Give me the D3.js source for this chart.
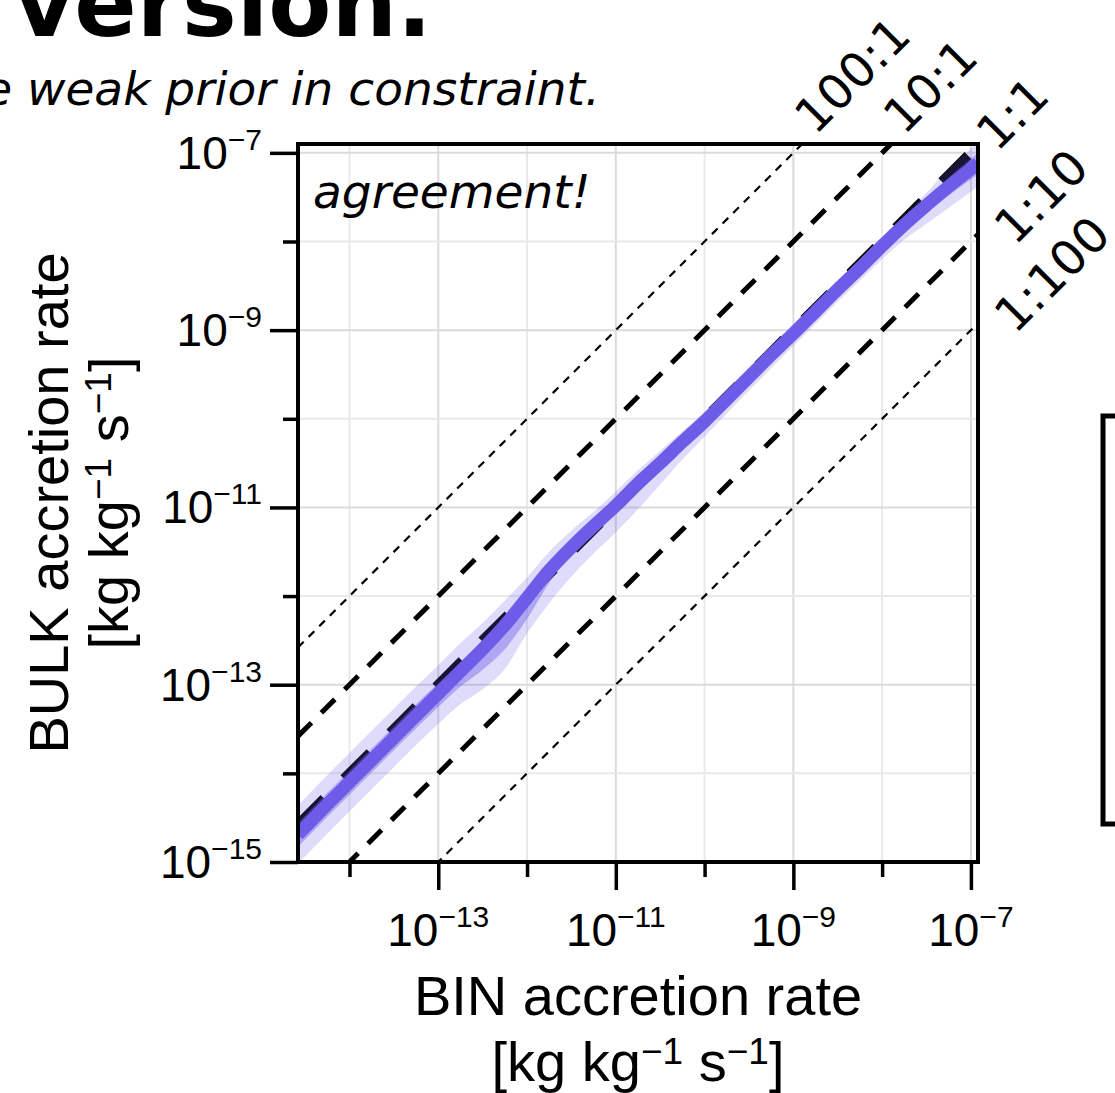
<!DOCTYPE html>
<html>
<head>
<meta charset="utf-8">
<script src="https://cdn.jsdelivr.net/npm/d3@7"></script>
<style>
    body { margin: 0; background: #fff; }
    svg { display: block; }
    text { font-family: "Liberation Sans", Arial, Helvetica, sans-serif; fill: #000; }
    .dejavu { font-family: "DejaVu Sans", sans-serif; }
</style>
</head>
<body>
<svg id="chart"></svg>
<script>
// BIN accretion rate, log10 of kg kg-1 s-1 (x positions of the curve)
const binExp = [-14.58, -14.25, -14.0, -13.75, -13.5, -13.25, -13.0, -12.75, -12.5, -12.25, -12.0, -11.75, -11.5, -11.25, -11.0, -10.75,
    -10.5, -10.25, -10.0, -9.75, -9.5, -9.25, -9.0, -8.75, -8.5, -8.25, -8.0, -7.75, -7.5, -7.25, -6.92];
// BULK accretion rate, log10: median and two percentile bands
const bulkMedianExp = [-14.69, -14.35, -14.10, -13.85, -13.60, -13.35, -13.10, -12.85, -12.60, -12.33, -12.02, -11.71, -11.45, -11.21, -10.98, -10.73,
    -10.50, -10.26, -10.03, -9.78, -9.53, -9.28, -9.04, -8.79, -8.54, -8.30, -8.05, -7.81, -7.59, -7.38, -7.12];
const bulkInnerLowExp = [-14.83, -14.49, -14.24, -13.99, -13.74, -13.49, -13.25, -13.02, -12.83, -12.60, -12.26, -11.85, -11.52, -11.28, -11.05, -10.80,
    -10.56, -10.32, -10.09, -9.84, -9.59, -9.34, -9.10, -8.85, -8.60, -8.36, -8.12, -7.88, -7.68, -7.48, -7.24];
const bulkInnerHighExp = [-14.56, -14.22, -13.97, -13.72, -13.47, -13.22, -12.98, -12.74, -12.50, -12.24, -11.95, -11.63, -11.38, -11.15, -10.92, -10.67,
    -10.45, -10.21, -9.98, -9.73, -9.48, -9.23, -8.99, -8.74, -8.49, -8.25, -8.00, -7.75, -7.52, -7.28, -7.00];
const bulkOuterLowExp = [-15.02, -14.68, -14.43, -14.18, -13.93, -13.68, -13.44, -13.22, -13.05, -12.82, -12.42, -12.08, -11.78, -11.52, -11.28, -11.02,
    -10.74, -10.46, -10.20, -9.94, -9.68, -9.43, -9.18, -8.93, -8.68, -8.44, -8.20, -7.98, -7.80, -7.62, -7.38];
const bulkOuterHighExp = [-14.36, -14.02, -13.77, -13.52, -13.27, -13.02, -12.78, -12.53, -12.30, -12.05, -11.79, -11.50, -11.26, -11.05, -10.82, -10.58,
    -10.36, -10.14, -9.92, -9.67, -9.43, -9.18, -8.93, -8.69, -8.44, -8.20, -7.95, -7.70, -7.45, -7.18, -6.88];

// reference lines BULK = ratio * BIN
const ratioValues = [100, 10, 1, 0.1, 0.01];
const ratioLabels = ["100:1", "10:1", "1:1", "1:10", "1:100"];

// tick exponents
const yMajorExp = [-7, -9, -11, -13, -15];
const yMinorExp = [-8, -10, -12, -14];
const xMajorExp = [-13, -11, -9, -7];
const xMinorExp = [-14, -12, -10, -8];
const xLimitExp = [-14.58, -6.92];
const yLimitExp = [-15, -6.9];

function createChart() {
    const width = 1115;
    const height = 1093;
    const margin = { top: 144, right: 137, bottom: 231, left: 298 };
    const plotRight = width - margin.right;
    const plotBottom = height - margin.bottom;

    const svg = d3.select("#chart")
        .attr("width", width)
        .attr("height", height);

    const xScale = d3.scaleLog()
        .domain(xLimitExp.map(e => Math.pow(10, e)))
        .range([margin.left, plotRight]);

    const yScale = d3.scaleLog()
        .domain(yLimitExp.map(e => Math.pow(10, e)))
        .range([plotBottom, margin.top]);

    const data = binExp.map((e, i) => ({
        x: Math.pow(10, e),
        med: Math.pow(10, bulkMedianExp[i]),
        inLo: Math.pow(10, bulkInnerLowExp[i]),
        inHi: Math.pow(10, bulkInnerHighExp[i]),
        outLo: Math.pow(10, bulkOuterLowExp[i]),
        outHi: Math.pow(10, bulkOuterHighExp[i])
    }));

    svg.append("defs").append("clipPath")
        .attr("id", "plotClip")
        .append("rect")
        .attr("x", margin.left)
        .attr("y", margin.top)
        .attr("width", plotRight - margin.left)
        .attr("height", plotBottom - margin.top);

    // grid
    const grid = svg.append("g").attr("clip-path", "url(#plotClip)");
    const gridX = xMajorExp.concat(xMinorExp);
    const gridY = yMajorExp.concat(yMinorExp);
    grid.selectAll(".gx")
        .data(gridX)
        .enter()
        .append("line")
        .attr("x1", d => xScale(Math.pow(10, d)))
        .attr("x2", d => xScale(Math.pow(10, d)))
        .attr("y1", margin.top)
        .attr("y2", plotBottom)
        .style("stroke", d => xMajorExp.includes(d) ? "#dadada" : "#e9e9e9")
        .style("stroke-width", 2);
    grid.selectAll(".gy")
        .data(gridY)
        .enter()
        .append("line")
        .attr("y1", d => yScale(Math.pow(10, d)))
        .attr("y2", d => yScale(Math.pow(10, d)))
        .attr("x1", margin.left)
        .attr("x2", plotRight)
        .style("stroke", d => yMajorExp.includes(d) ? "#dadada" : "#e9e9e9")
        .style("stroke-width", 2);

    // ratio lines
    const plot = svg.append("g").attr("clip-path", "url(#plotClip)");
    const ratioStyle = {
        "100:1": { w: 2.2, dash: "8,7" },
        "10:1": { w: 5, dash: "19,14" },
        "1:1": { w: 10, dash: "37,28" },
        "1:10": { w: 5, dash: "19,14" },
        "1:100": { w: 2.2, dash: "8,7" }
    };
    const xDom = xScale.domain();
    const ratioLine = d3.line()
        .x(d => xScale(d[0]))
        .y(d => yScale(d[1]));

    ratioValues.forEach((k, i) => {
        const st = ratioStyle[ratioLabels[i]];
        plot.append("path")
            .datum([[xDom[0], k * xDom[0]], [xDom[1], k * xDom[1]]])
            .attr("d", ratioLine)
            .style("fill", "none")
            .style("stroke", "#000")
            .style("stroke-width", st.w)
            .style("stroke-dasharray", st.dash);
    });

    // percentile bands and median
    const curve = d3.curveMonotoneX;
    const outerArea = d3.area()
        .x(d => xScale(d.x))
        .y0(d => yScale(d.outLo))
        .y1(d => yScale(d.outHi))
        .curve(curve);
    const innerArea = d3.area()
        .x(d => xScale(d.x))
        .y0(d => yScale(d.inLo))
        .y1(d => yScale(d.inHi))
        .curve(curve);
    const medianLine = d3.line()
        .x(d => xScale(d.x))
        .y(d => yScale(d.med))
        .curve(curve);

    plot.append("path")
        .datum(data)
        .attr("d", outerArea)
        .style("fill", "#6c5ce7")
        .style("fill-opacity", 0.22);
    plot.append("path")
        .datum(data)
        .attr("d", innerArea)
        .style("fill", "#6c5ce7")
        .style("fill-opacity", 0.42);
    plot.append("path")
        .datum(data)
        .attr("d", medianLine)
        .style("fill", "none")
        .style("stroke", "#6c5ce7")
        .style("stroke-width", 13)
        .style("stroke-linejoin", "round");

    // ratio labels, rotated along the lines
    const yTop = yScale.domain()[1];
    ratioValues.forEach((k, i) => {
        const xv = Math.min(xDom[1], yTop / k);
        const px = xScale(xv);
        const py = yScale(k * xv);
        let dx, dy;
        if (Math.abs(py - margin.top) < 5 && Math.abs(px - plotRight) < 5) { dx = -6; dy = 7; }
        else if (Math.abs(py - margin.top) < 1) { dx = -12; dy = -8; }
        else { dx = 12; dy = 12; }
        svg.append("text")
            .attr("class", "dejavu")
            .attr("transform", `translate(${px + dx + 25},${py + dy}) rotate(-45)`)
            .style("font-size", "48px")
            .text(ratioLabels[i]);
    });

    // axes
    svg.append("g")
        .attr("transform", `translate(${margin.left},0)`)
        .call(d3.axisLeft(yScale).tickValues(yMajorExp.map(e => Math.pow(10, e))).tickSize(28).tickFormat(""));
    svg.append("g")
        .attr("transform", `translate(${margin.left},0)`)
        .call(d3.axisLeft(yScale).tickValues(yMinorExp.map(e => Math.pow(10, e))).tickSize(15).tickFormat(""));
    svg.append("g")
        .attr("transform", `translate(0,${plotBottom})`)
        .call(d3.axisBottom(xScale).tickValues(xMajorExp.map(e => Math.pow(10, e))).tickSize(28).tickFormat(""));
    svg.append("g")
        .attr("transform", `translate(0,${plotBottom})`)
        .call(d3.axisBottom(xScale).tickValues(xMinorExp.map(e => Math.pow(10, e))).tickSize(15).tickFormat(""));

    svg.selectAll(".domain").remove();
    svg.selectAll(".tick line")
        .style("stroke", "#000")
        .style("stroke-width", 3.5);

    function powerLabel(text, exp) {
        text.append("tspan").text("10");
        text.append("tspan")
            .attr("dy", -19)
            .style("font-size", "30px")
            .text("\u2212" + Math.abs(exp));
    }

    yMajorExp.forEach(e => {
        const t = svg.append("text")
            .attr("x", margin.left - 36)
            .attr("y", yScale(Math.pow(10, e)) + 16)
            .style("font-size", "46px")
            .style("text-anchor", "end");
        powerLabel(t, e);
    });
    xMajorExp.forEach(e => {
        const t = svg.append("text")
            .attr("x", xScale(Math.pow(10, e)))
            .attr("y", plotBottom + 84)
            .style("font-size", "46px")
            .style("text-anchor", "middle");
        powerLabel(t, e);
    });

    // spines
    svg.append("rect")
        .attr("x", margin.left)
        .attr("y", margin.top)
        .attr("width", plotRight - margin.left)
        .attr("height", plotBottom - margin.top)
        .style("fill", "none")
        .style("stroke", "#000")
        .style("stroke-width", 4);

    // axis labels
    function unitLabel(text) {
        text.append("tspan").text("[kg kg");
        text.append("tspan").attr("dy", -17).style("font-size", "37px").text("\u22121");
        text.append("tspan").attr("dy", 17).text(" s");
        text.append("tspan").attr("dy", -17).style("font-size", "37px").text("\u22121");
        text.append("tspan").attr("dy", 17).text("]");
    }

    const xMid = (margin.left + plotRight) / 2;
    svg.append("text")
        .attr("x", xMid)
        .attr("y", 1015)
        .style("font-size", "56px")
        .style("text-anchor", "middle")
        .text("BIN accretion rate");
    unitLabel(svg.append("text")
        .attr("x", xMid)
        .attr("y", 1081)
        .style("font-size", "56px")
        .style("text-anchor", "middle"));

    const yMid = (margin.top + plotBottom) / 2;
    svg.append("text")
        .attr("transform", `translate(68,${yMid}) rotate(-90)`)
        .style("font-size", "56px")
        .style("text-anchor", "middle")
        .text("BULK accretion rate");
    unitLabel(svg.append("text")
        .attr("transform", `translate(128,${yMid}) rotate(-90)`)
        .style("font-size", "56px")
        .style("text-anchor", "middle"));

    // in-panel note
    svg.append("text")
        .attr("class", "dejavu")
        .attr("x", margin.left + 15)
        .attr("y", 208)
        .style("font-size", "47px")
        .style("font-style", "italic")
        .text("agreement!");

    // figure title and subtitle (cut off at the left edge)
    svg.append("text")
        .attr("class", "dejavu")
        .attr("x", 432)
        .attr("y", 36)
        .style("font-size", "92px")
        .style("font-weight", "bold")
        .style("text-anchor", "end")
        .text("version.");
    svg.append("text")
        .attr("class", "dejavu")
        .attr("x", 600)
        .attr("y", 105)
        .style("font-size", "47px")
        .style("font-style", "italic")
        .style("text-anchor", "end")
        .text("e weak prior in constraint.");

    // edge of the legend box on the right
    svg.append("rect")
        .attr("x", 1103)
        .attr("y", 416)
        .attr("width", 80)
        .attr("height", 408)
        .style("fill", "#fff")
        .style("stroke", "#000")
        .style("stroke-width", 5);
}

createChart();
</script>
</body>
</html>
